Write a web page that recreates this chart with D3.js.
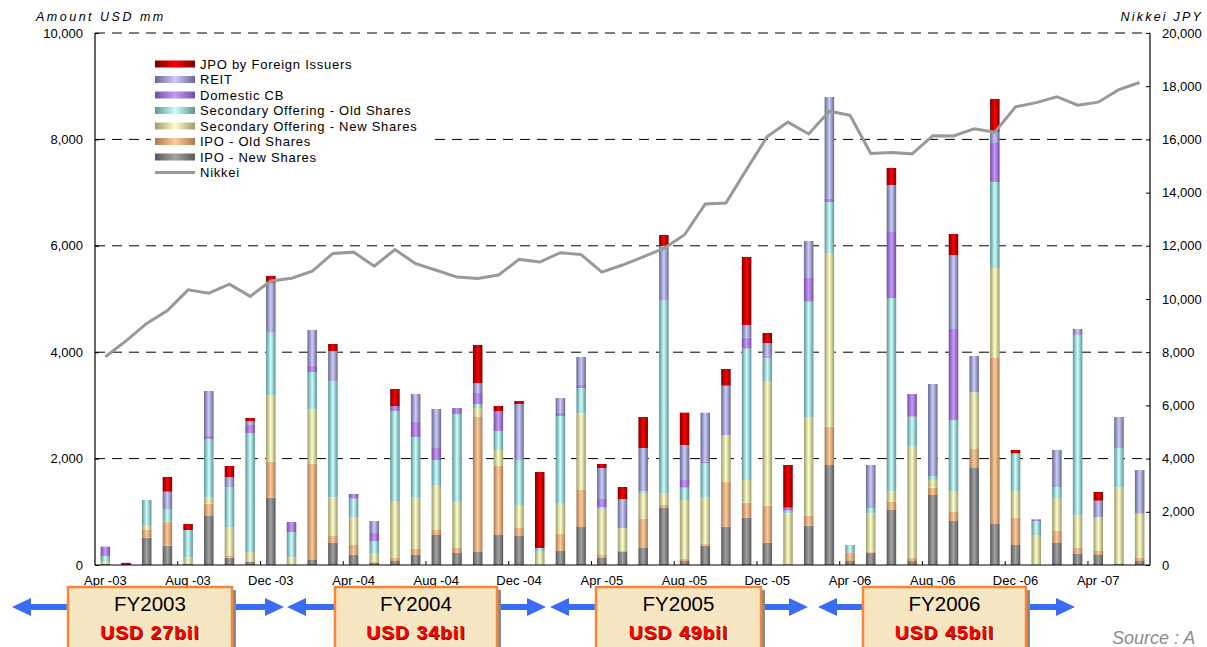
<!DOCTYPE html>
<html>
<head>
<meta charset="utf-8">
<script src="https://cdn.jsdelivr.net/npm/d3@7"></script>
<style>
  body { margin: 0; background: #fff; }
  svg { display: block; font-family: "Liberation Sans", Arial, sans-serif; }
</style>
</head>
<body>
<svg id="chart" width="1207" height="647"></svg>
<script>
// Monthly categories Apr-03 .. Jun-07
const months = ["Apr-03","May-03","Jun-03","Jul-03","Aug-03","Sep-03","Oct-03","Nov-03","Dec-03",
  "Jan-04","Feb-04","Mar-04","Apr-04","May-04","Jun-04","Jul-04","Aug-04","Sep-04","Oct-04","Nov-04","Dec-04",
  "Jan-05","Feb-05","Mar-05","Apr-05","May-05","Jun-05","Jul-05","Aug-05","Sep-05","Oct-05","Nov-05","Dec-05",
  "Jan-06","Feb-06","Mar-06","Apr-06","May-06","Jun-06","Jul-06","Aug-06","Sep-06","Oct-06","Nov-06","Dec-06",
  "Jan-07","Feb-07","Mar-07","Apr-07","May-07","Jun-07"];

// Amount USD mm, per series
const ipoNew = [20,0,514,363,19,921,138,63,1266, 0,94,414,194,44,75,188,564,226,244,564,545,
  0,263,714,132,244,320,1071,75,363,721,890,420, 0,739,1880,75,232,1034,75,1316,827,1823,783,376,
  0,414,207,188,19,75];
const ipoOld = [10,0,144,452,0,232,44,0,676, 0,1805,131,182,19,57,113,94,94,2538,1297,151,
  0,320,696,56,19,545,57,50,38,846,282,695, 31,188,720,163,19,156,63,138,169,358,3108,508,
  0,225,113,75,0,57];
const secNew = [30,0,81,0,131,113,520,181,1241, 138,1027,727,514,150,1071,965,846,883,169,301,432,
  263,582,1441,852,433,488,219,1097,865,877,426,2331, 940,1843,3265,0,720,188,2086,144,382,1065,1692,507,
  564,620,607,639,1435,833];
const secOld = [110,0,483,238,508,1103,764,2237,1184, 482,702,2187,357,238,1692,1140,470,1636,75,357,846,
  57,1636,476,50,0,38,3622,232,645,0,2469,451, 50,2180,959,138,100,3641,564,75,1348,0,1617,708,
  263,207,3397,0,745,0];
const domCB = [175,0,0,0,0,56,0,151,0, 188,113,0,88,151,94,282,225,112,207,376,0,
  0,57,57,151,0,0,0,144,31,0,206,38, 57,445,56,0,0,1241,426,0,1710,0,733,0,
  31,0,0,0,0,0];
const reit = [0,0,0,325,0,846,188,69,940, 0,677,564,0,225,0,526,734,0,188,0,1052,
  0,281,526,582,545,808,1034,658,922,927,239,238, 0,695,1917,0,809,883,0,1729,1391,683,213,0,
  0,696,112,307,583,821];
const jpo = [0,40,0,276,113,0,207,62,126, 0,0,131,0,0,319,0,0,0,715,94,57,
  1428,0,0,76,225,583,200,608,0,313,1278,188, 802,0,0,0,0,320,0,0,395,0,614,63,
  0,0,0,163,0,0];

// Nikkei month-end, JPY
const nikkei = [7831,8425,9083,9563,10344,10219,10560,10100,10677,
  10783,11042,11715,11762,11236,11858,11326,11082,10824,10771,10899,11489,
  11388,11740,11669,11009,11277,11584,11900,12414,13574,13607,14872,16111,
  16650,16205,17060,16906,15467,15505,15457,16141,16128,16399,16274,17226,
  17383,17604,17288,17400,17876,18138];

const seriesNames = ["IPO - New Shares","IPO - Old Shares","Secondary Offering - New Shares",
  "Secondary Offering - Old Shares","Domestic CB","REIT","JPO by Foreign Issuers"];
const seriesValues = [ipoNew, ipoOld, secNew, secOld, domCB, reit, jpo];
const seriesDark  = ["#585858","#a87c58","#9c9c6c","#5e9494","#70509c","#68688e","#7a0000"];
const seriesLight = ["#a4a4a4","#ffcc99","#ffffcc","#ccffff","#cc99ff","#ccccff","#ff0000"];

const fyNames = ["FY2003","FY2004","FY2005","FY2006"];
const fyTotals = ["USD 27bil","USD 34bil","USD 49bil","USD 45bil"];

const svg = d3.select("#chart");
const W = 1207, H = 647;
const margin = { top: 33, right: 57, bottom: 82, left: 95 };
const width = W - margin.left - margin.right;
const height = H - margin.top - margin.bottom;

const rows = months.map((m, i) => {
  const r = { month: m, i };
  seriesNames.forEach((s, k) => r[s] = seriesValues[k][i]);
  return r;
});

const x = d3.scaleBand().domain(months).range([margin.left, margin.left + width]).paddingInner(0.54).paddingOuter(0.27);
const y = d3.scaleLinear().domain([0, 10000]).range([margin.top + height, margin.top]);
const y2 = d3.scaleLinear().domain([0, 20000]).range([margin.top + height, margin.top]);

// gradients
const defs = svg.append("defs");
seriesNames.forEach((s, k) => {
  const g = defs.append("linearGradient").attr("id", "grad" + k)
    .attr("x1", 0).attr("x2", 1).attr("y1", 0).attr("y2", 0);
  g.append("stop").attr("offset", "0%").attr("stop-color", seriesDark[k]);
  g.append("stop").attr("offset", "50%").attr("stop-color", seriesLight[k]);
  g.append("stop").attr("offset", "100%").attr("stop-color", seriesDark[k]);
});

// gridlines
svg.append("g")
  .selectAll("line")
  .data(d3.range(2000, 10001, 2000))
  .join("line")
  .attr("x1", margin.left).attr("x2", margin.left + width)
  .attr("y1", d => y(d)).attr("y2", d => y(d))
  .attr("stroke", "#000").attr("stroke-width", 1)
  .attr("stroke-dasharray", "10,7");

// stacked bars
const stack = d3.stack().keys(seriesNames)(rows);
svg.append("g")
  .selectAll("g")
  .data(stack)
  .join("g")
  .attr("fill", (d, k) => `url(#grad${k})`)
  .selectAll("rect")
  .data(d => d.filter(p => p[1] > p[0]))
  .join("rect")
  .attr("x", d => x(d.data.month))
  .attr("width", x.bandwidth())
  .attr("y", d => y(d[1]))
  .attr("height", d => y(d[0]) - y(d[1]));

// axes lines
const axes = svg.append("g").attr("stroke", "#000").attr("stroke-width", 1.2);
axes.append("line").attr("x1", margin.left).attr("x2", margin.left)
  .attr("y1", margin.top).attr("y2", margin.top + height);
axes.append("line").attr("x1", margin.left + width).attr("x2", margin.left + width)
  .attr("y1", margin.top).attr("y2", margin.top + height);
axes.append("line").attr("x1", margin.left).attr("x2", margin.left + width)
  .attr("y1", margin.top + height).attr("y2", margin.top + height);

// left axis
const leftAxis = svg.append("g")
  .attr("transform", `translate(${margin.left},0)`)
  .call(d3.axisLeft(y).tickValues(d3.range(0, 10001, 2000)).tickFormat(d3.format(",")).tickSize(4).tickPadding(8));
// right axis
const rightAxis = svg.append("g")
  .attr("transform", `translate(${margin.left + width},0)`)
  .call(d3.axisRight(y2).tickValues(d3.range(0, 20001, 2000)).tickFormat(d3.format(",")).tickSize(4).tickPadding(8));
[leftAxis, rightAxis].forEach(a => {
  a.select(".domain").remove();
  a.selectAll("text").attr("font-size", 13).attr("fill", "#000").style("font-family", "Liberation Sans, Arial, sans-serif");
});
leftAxis.selectAll(".tick line").attr("x2", 4);
rightAxis.selectAll(".tick line").attr("x2", -4);

// x axis: small inward ticks at every 4th month boundary, labels on the bars
const xLab = months.filter((m, i) => i % 4 === 0);
svg.append("g").selectAll("line")
  .data(xLab.slice(1))
  .join("line")
  .attr("x1", d => x(d) - x.step() * x.paddingInner() / 2)
  .attr("x2", d => x(d) - x.step() * x.paddingInner() / 2)
  .attr("y1", y(0)).attr("y2", y(0) - 4)
  .attr("stroke", "#000");
svg.append("g").selectAll("text")
  .data(xLab)
  .join("text")
  .attr("x", d => x(d) + x.bandwidth() / 2)
  .attr("y", y(0) + 20)
  .attr("text-anchor", "middle")
  .attr("font-size", 13)
  .text(d => d.replace("-", " -"));

// Nikkei line
const line = d3.line()
  .x((d, i) => x(months[i]) + x.bandwidth() / 2)
  .y(d => y2(d));
svg.append("path")
  .datum(nikkei)
  .attr("d", line)
  .attr("fill", "none")
  .attr("stroke", "#999")
  .attr("stroke-width", 3);

// axis titles
svg.append("text").attr("x", 36).attr("y", 21)
  .attr("font-size", 12.5).attr("font-style", "italic").attr("letter-spacing", 2.5)
  .text("Amount USD mm");
svg.append("text").attr("x", 1203).attr("y", 21).attr("text-anchor", "end")
  .attr("font-size", 12.5).attr("font-style", "italic").attr("letter-spacing", 2.2)
  .text("Nikkei  JPY");

// legend (white box hides the gridlines behind it)
const legendItems = seriesNames.map((s, k) => ({ name: s, k })).reverse();
const legend = svg.append("g").attr("transform", "translate(155,64)");
legend.append("rect").attr("x", -4).attr("y", -9).attr("width", 280).attr("height", 124)
  .attr("fill", "#fff");
legendItems.forEach((d, j) => {
  const gy = j * 15.5;
  legend.append("rect").attr("x", 0).attr("y", gy - 3.5).attr("width", 40).attr("height", 7)
    .attr("fill", `url(#grad${d.k})`);
  legend.append("text").attr("x", 45).attr("y", gy + 4.5).attr("font-size", 13)
    .attr("letter-spacing", 0.75).text(d.name);
});
legend.append("line").attr("x1", 0).attr("x2", 40).attr("y1", 7 * 15.5).attr("y2", 7 * 15.5)
  .attr("stroke", "#999").attr("stroke-width", 3);
legend.append("text").attr("x", 45).attr("y", 7 * 15.5 + 4.5).attr("font-size", 13)
  .attr("letter-spacing", 0.75).text("Nikkei");

// FY annotations
const arrowSpans = [[12, 284], [287, 546], [550, 808], [818, 1075]];
const boxSpans = [[68, 232], [335, 497], [596, 761], [863, 1026]];
const arrowY = 607;
const ann = svg.append("g");
arrowSpans.forEach(([a, b]) => {
  const t = 3, hw = 9, hl = 19;
  ann.append("path")
    .attr("d", `M${a},${arrowY} L${a + hl},${arrowY - hw} L${a + hl},${arrowY - t} L${b - hl},${arrowY - t} L${b - hl},${arrowY - hw} L${b},${arrowY} L${b - hl},${arrowY + hw} L${b - hl},${arrowY + t} L${a + hl},${arrowY + t} L${a + hl},${arrowY + hw} Z`)
    .attr("fill", "#3b6cf5");
});
boxSpans.forEach(([a, b], k) => {
  ann.append("rect").attr("x", a + 4).attr("y", 590).attr("width", b - a).attr("height", 64)
    .attr("fill", "#8a8a8a");
  ann.append("rect").attr("x", a).attr("y", 587).attr("width", b - a).attr("height", 64)
    .attr("fill", "#f6e6c2").attr("stroke", "#f5863a").attr("stroke-width", 2.5);
  const cx = (a + b) / 2;
  ann.append("text").attr("x", cx).attr("y", 611).attr("text-anchor", "middle")
    .attr("font-size", 20.5).attr("fill", "#000").text(fyNames[k]);
  ann.append("text").attr("x", cx + 1).attr("y", 640).attr("text-anchor", "middle")
    .attr("font-size", 19).attr("font-weight", "bold").attr("letter-spacing", 1.2).attr("fill", "#600")
    .text(fyTotals[k]);
  ann.append("text").attr("x", cx).attr("y", 639).attr("text-anchor", "middle")
    .attr("font-size", 19).attr("font-weight", "bold").attr("letter-spacing", 1.2).attr("fill", "#ff0000")
    .text(fyTotals[k]);
});

svg.append("text").attr("x", 1112).attr("y", 644)
  .attr("font-size", 18).attr("font-style", "italic").attr("fill", "#8c8c8c")
  .text("Source : A");
</script>
</body>
</html>
